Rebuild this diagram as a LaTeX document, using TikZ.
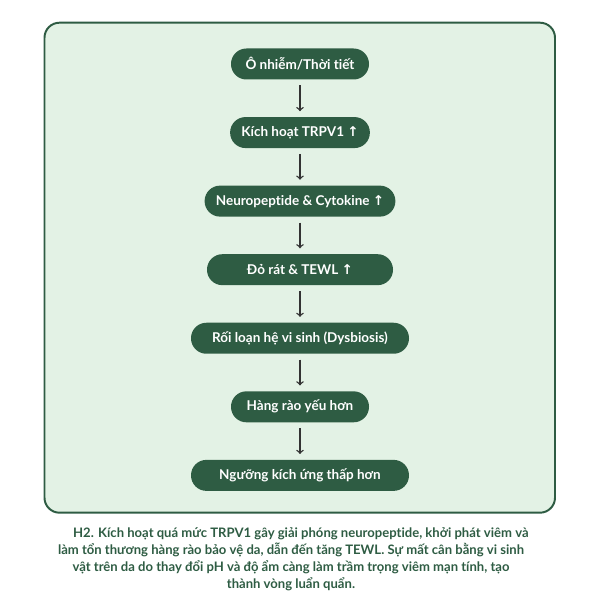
\documentclass[tikz,border=0pt]{standalone}
\usepackage{fontspec}
\setmainfont{Lato}[Ligatures=NoCommon]
\newfontfamily\arrowfont{DejaVu Sans}
\usetikzlibrary{positioning,arrows}
\definecolor{leafgreen}{HTML}{2E5C43}
\definecolor{palegreen}{HTML}{E3F2E5}
\definecolor{arrowgray}{HTML}{333333}
\newcommand{\rise}{{\arrowfont\bfseries ↑}}

\begin{document}
\begin{tikzpicture}[
    node distance=0.925cm,
    stage/.style={rectangle, rounded corners=0.385cm, fill=leafgreen, text=white,
        font=\bfseries\fontsize{9.6}{11}\selectfont, minimum height=0.775cm, inner xsep=8pt},
    flow/.style={->, >=to, draw=arrowgray, line width=1pt, shorten <=0.14cm, shorten >=0.14cm}
]
    \useasboundingbox (0, 0) rectangle (15, 15);
    \draw[leafgreen, fill=palegreen, line width=1.4pt, rounded corners=0.375cm] (1.1125, 2.1825) rectangle (13.875, 14.4325);

    \node[stage, minimum width=3.45cm] (pollution) at (7.5, 13.4) {Ô nhiễm/Thời tiết};
    \node[stage, minimum width=3.45cm, below=of pollution] (trpv) {Kích hoạt TRPV1 \rise};
    \node[stage, minimum width=4.65cm, below=of trpv] (neuro) {Neuropeptide \& Cytokine \rise};
    \node[stage, minimum width=4.65cm, below=of neuro] (redness) {Đỏ rát \& TEWL \rise};
    \node[stage, minimum width=5.45cm, below=of redness] (dysbiosis) {Rối loạn hệ vi sinh (Dysbiosis)};
    \node[stage, minimum width=3.45cm, below=of dysbiosis] (barrier) {Hàng rào yếu hơn};
    \node[stage, minimum width=5.45cm, below=of barrier] (threshold) {Ngưỡng kích ứng thấp hơn};

    \draw[flow] (pollution) -- (trpv);
    \draw[flow] (trpv) -- (neuro);
    \draw[flow] (neuro) -- (redness);
    \draw[flow] (redness) -- (dysbiosis);
    \draw[flow] (dysbiosis) -- (barrier);
    \draw[flow] (barrier) -- (threshold);

    \node[align=center, text=leafgreen, font=\bfseries\fontsize{9.3}{12.1}\selectfont] (caption) at (7.275, 1.01)
        {\hspace*{14pt}H2. Kích hoạt quá mức TRPV1 gây giải phóng neuropeptide, khởi phát viêm và\\
        làm tổn thương hàng rào bảo vệ da, dẫn đến tăng TEWL. Sự mất cân bằng vi sinh\\
        vật trên da do thay đổi pH và độ ẩm càng làm trầm trọng viêm mạn tính, tạo\\
        thành vòng luẩn quẩn.};
\end{tikzpicture}
\end{document}
